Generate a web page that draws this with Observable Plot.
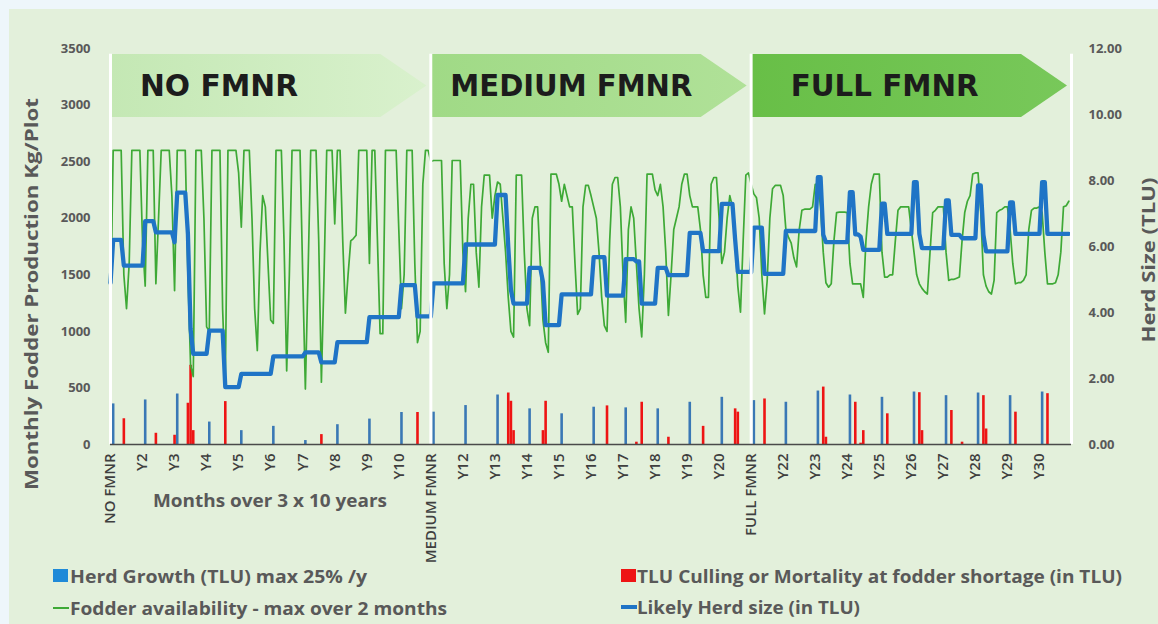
<!DOCTYPE html>
<html><head><meta charset="utf-8">
<script src="https://cdn.jsdelivr.net/npm/d3@7"></script>
<script src="https://cdn.jsdelivr.net/npm/@observablehq/plot@0.6"></script>
<style>
html,body{margin:0;padding:0;background:#eef6fb;}
#chart{position:relative;width:1158px;height:624px;overflow:hidden;}
</style></head><body><div id="chart"></div>
<script>
// ---------- DATA ----------
const sections = [
  {name: "NO FMNR", start: 0, end: 120},
  {name: "MEDIUM FMNR", start: 120, end: 240},
  {name: "FULL FMNR", start: 240, end: 360}
];
const tickLabels = ["NO FMNR","Y2","Y3","Y4","Y5","Y6","Y7","Y8","Y9","Y10",
  "MEDIUM FMNR","Y12","Y13","Y14","Y15","Y16","Y17","Y18","Y19","Y20",
  "FULL FMNR","Y22","Y23","Y24","Y25","Y26","Y27","Y28","Y29","Y30"];
const leftTicks = [0,500,1000,1500,2000,2500,3000,3500];
const rightTicks = [0,2,4,6,8,10,12];

// Fodder availability (kg/plot), monthly
const fodderNo = [
1110,2600,2600,2600,2600,1500,1200,1600,2600,2600,
2600,2600,1800,1400,2600,2600,2600,1420,2000,2600,
2600,2600,2600,2200,1360,2600,2600,2600,2600,1500,
700,600,2600,2600,2600,2000,1040,1000,2600,2600,
2600,2600,1200,530,2600,2600,2600,2600,2400,1920,
2600,2600,2600,2000,1200,830,1700,2200,2100,1600,
1100,1070,2600,2600,2600,1800,650,1500,2600,2600,
2600,2600,1500,490,1500,2600,2600,2600,1800,550,
1500,2600,2600,2600,1950,2600,2600,1800,1160,1500,
1800,1820,1850,2600,2600,2600,2600,1600,2600,2600,
1800,980,980,2600,2600,2600,2600,2600,1900,1200,
1500,2600,2600,2600,1600,900,1000,2300,2600,2600];
const fodderMedium = [
2500,2510,2510,2510,2510,1600,1200,1500,2510,2510,
2510,2510,1700,1350,2000,2300,2300,1700,1390,2100,
2380,2380,2380,2000,2200,2320,2300,2000,1700,1300,
1000,950,2380,2380,2380,1700,1200,1050,2000,2100,
2100,1600,1100,900,815,2390,2390,2390,2300,2150,
2300,2200,2100,2100,1600,1150,1200,2100,2290,2290,
2200,2100,2000,1700,1300,1050,1000,1800,2300,2360,
2360,2100,1500,1080,1900,2100,2000,1600,1200,950,
1500,2390,2390,2390,2250,2200,2300,2100,1700,1140,
1500,1900,2000,2100,2300,2390,2390,2200,2100,2100,
2100,1900,1500,1300,1300,2300,2360,2360,2000,1600,
1700,2000,2200,2100,1800,1400,1170,1800,2380,2400];
const fodderFull = [
2300,2215,2180,2000,1500,1155,1450,2000,2260,2290,
2290,2290,2200,1900,1830,1780,1650,1570,1900,2070,
2080,2080,2080,2100,2300,2300,2100,1700,1430,1390,
1420,1800,2050,2053,2053,2053,2050,1600,1420,1420,
1420,1420,1300,1800,2100,2300,2390,2390,2390,1700,
1480,1480,1500,1500,1800,2070,2100,2100,2100,2100,
1900,1700,1500,1420,1380,1350,1330,1700,2050,2070,
2100,2100,2100,1700,1450,1460,1460,1470,1480,1800,
2050,2150,2200,2390,2400,2400,2050,1500,1400,1350,
1330,1450,2050,2070,2080,2100,2100,1900,1600,1420,
1430,1430,1450,1500,1900,2070,2090,2090,2100,2050,
1700,1420,1420,1420,1430,1500,1700,2100,2110,2150];

// Likely herd size (TLU), monthly
const herdNo = [
4.9,6.2,6.2,6.2,6.2,5.42,5.42,5.42,5.42,5.42,
5.42,5.42,5.42,6.77,6.77,6.77,6.77,6.43,6.43,6.43,
6.43,6.43,6.43,6.43,6.13,7.63,7.63,7.63,7.63,6.38,
3.5,2.75,2.75,2.75,2.75,2.75,2.75,3.45,3.45,3.45,
3.45,3.45,3.45,1.74,1.74,1.74,1.74,1.74,1.74,2.14,
2.14,2.14,2.14,2.14,2.14,2.14,2.14,2.14,2.14,2.14,
2.14,2.67,2.67,2.67,2.67,2.67,2.67,2.67,2.67,2.67,
2.67,2.67,2.67,2.79,2.79,2.79,2.79,2.79,2.79,2.49,
2.49,2.49,2.49,2.49,2.49,3.1,3.1,3.1,3.1,3.1,
3.1,3.1,3.1,3.1,3.1,3.1,3.1,3.86,3.86,3.86,
3.86,3.86,3.86,3.86,3.86,3.86,3.86,3.86,3.86,4.83,
4.83,4.83,4.83,4.83,4.83,3.88,3.88,3.88,3.88,3.88];
const herdMedium = [
3.88,4.88,4.88,4.88,4.88,4.88,4.88,4.88,4.88,4.88,
4.88,4.88,4.88,6.06,6.06,6.06,6.06,6.06,6.06,6.06,
6.06,6.06,6.06,6.06,6.06,7.56,7.56,7.56,7.56,6.0,
4.69,4.27,4.27,4.27,4.27,4.27,4.27,5.35,5.35,5.35,
5.35,5.35,4.93,3.62,3.62,3.62,3.62,3.62,3.62,4.55,
4.55,4.55,4.55,4.55,4.55,4.55,4.55,4.55,4.55,4.55,
4.55,5.68,5.68,5.68,5.68,5.68,4.51,4.51,4.51,4.51,
4.51,4.51,4.51,5.62,5.62,5.62,5.62,5.55,5.55,4.27,
4.27,4.27,4.27,4.27,4.27,5.35,5.35,5.35,5.35,5.13,
5.13,5.13,5.13,5.13,5.13,5.13,5.13,6.41,6.41,6.41,
6.41,6.41,5.86,5.86,5.86,5.86,5.86,5.86,5.86,7.29,
7.29,7.29,7.29,7.29,6.21,5.23,5.23,5.23,5.23,5.23];
const herdFull = [
5.22,6.57,6.57,6.57,6.57,5.17,5.17,5.17,5.17,5.17,
5.17,5.17,5.17,6.47,6.47,6.47,6.47,6.47,6.47,6.47,
6.47,6.47,6.47,6.47,6.47,8.1,8.1,6.36,6.13,6.13,
6.13,6.13,6.13,6.13,6.13,6.13,6.13,7.65,7.65,6.37,
6.37,6.3,5.9,5.9,5.9,5.9,5.9,5.9,5.9,7.3,
7.3,6.38,6.38,6.38,6.38,6.38,6.38,6.38,6.38,6.38,
6.38,7.95,7.95,6.38,5.95,5.95,5.95,5.95,5.95,5.95,
5.95,5.95,5.95,7.4,7.4,6.35,6.35,6.35,6.35,6.25,
6.25,6.25,6.25,6.25,6.25,7.85,7.85,6.35,5.85,5.85,
5.85,5.85,5.85,5.85,5.85,5.85,5.85,7.34,7.34,6.38,
6.38,6.38,6.38,6.38,6.38,6.38,6.38,6.38,6.38,7.95,
7.95,6.38,6.38,6.38,6.38,6.38,6.38,6.38,6.38,6.38];

// Herd growth bars (TLU) and culling / mortality bars (TLU)
const growthMonths = [1,13,25,37,49,61,73,85,97,109,121,133,145,157,169,181,193,205,217,229,241,253,265,277,289,301,313,325,337,349];
const growthValues = [1.23,1.35,1.53,0.68,0.42,0.55,0.12,0.6,0.77,0.97,0.98,1.18,1.5,1.08,0.93,1.13,1.11,1.08,1.28,1.43,1.33,1.28,1.62,1.5,1.43,1.59,1.48,1.56,1.48,1.59];
const cullMonths = [5,17,24,29,30,31,43,79,115,149,150,151,162,163,186,197,199,209,222,234,235,245,267,268,279,281,282,291,303,304,315,319,327,328,339,351];
const cullValues = [0.78,0.34,0.28,1.25,2.4,0.42,1.3,0.3,0.97,1.56,1.31,0.42,0.42,1.31,1.17,0.07,1.28,0.22,0.55,1.08,0.98,1.38,1.74,0.22,1.28,0.04,0.42,0.93,1.57,0.42,1.03,0.07,1.48,0.47,0.98,1.54];

// ---------- BUILD ----------
const K = 3500 / 12; // kg-axis units per TLU (dual axis)
const fodder = [...fodderNo, ...fodderMedium, ...fodderFull];
const herd = [...herdNo, ...herdMedium, ...herdFull];
const rows = fodder.map((f, i) => ({month: i, fodder: f, herd: herd[i]}));
const growth = growthMonths.map((m, i) => ({month: m, tlu: growthValues[i]}));
const culling = cullMonths.map((m, i) => ({month: m, tlu: cullValues[i]}));
const tickMonths = tickLabels.map((_, i) => i * 12);
const labelOf = new Map(tickMonths.map((m, i) => [m, tickLabels[i]]));
const bounds = [0, ...sections.map(s => s.end)];

const FONT = "'Open Sans', sans-serif";
const GREY = "#595959";

const plot = Plot.plot({
  width: 1158, height: 624,
  marginLeft: 110, marginRight: 87, marginTop: 48, marginBottom: 180,
  x: {domain: [0, 360]},
  y: {domain: [0, 3500]},
  style: {background: "transparent", fontFamily: FONT, color: GREY, overflow: "visible"},
  marks: [
    Plot.ruleX(growth, {x: "month", y1: 0, y2: d => d.tlu * K, stroke: "#3a78b5", strokeWidth: 2.6}),
    Plot.ruleX(culling, {x: "month", y1: 0, y2: d => d.tlu * K, stroke: "#ee1414", strokeWidth: 2.6}),
    Plot.line(rows, {x: "month", y: "fodder", stroke: "#3ea936", strokeWidth: 1.7, strokeLinejoin: "round"}),
    Plot.line(rows, {x: "month", y: d => d.herd * K, stroke: "#1f74c6", strokeWidth: 4.3, strokeLinejoin: "round"}),
    Plot.ruleX(bounds, {x: d => d, y1: 0, y2: 3450, stroke: "#ffffff", strokeWidth: 3}),
    Plot.ruleY([0], {stroke: "#4a4a4a", strokeWidth: 1.4}),
    Plot.axisY({ticks: leftTicks, tickSize: 0, tickPadding: 20, label: null,
      tickFormat: d => String(d), fontSize: 13, fontWeight: "bold", fill: GREY}),
    Plot.axisY({anchor: "right", ticks: rightTicks.map(t => t * K), tickSize: 0, tickPadding: 17, label: null,
      tickFormat: d => (d / K).toFixed(2), fontSize: 13, fontWeight: "bold", fill: GREY}),
    Plot.axisX({ticks: tickMonths, tickFormat: d => labelOf.get(d), tickRotate: -90, tickSize: 0, tickPadding: 9,
      label: null, fontSize: 15, fontWeight: 600, fill: "#3f3f3f"})
  ]
});

const svg = d3.select(plot);
const sx = plot.scale("x");

// panel background
svg.insert("rect", ":first-child").attr("x", 9).attr("y", 9).attr("width", 1149).attr("height", 615).attr("fill", "#e3f0db");

// banners
const defs = svg.append("defs");
const bannerFill = [["#c4e8b4", "#d9f1cd"], ["#a0da86", "#b0e198"], ["#68bf47", "#78c85a"]];
const textOffset = [28, 18, 38];
const textLen = [158, 242, 188];
sections.forEach((s, i) => {
  const g = defs.append("linearGradient").attr("id", "bg" + i).attr("x1", 0).attr("x2", 1).attr("y1", 0).attr("y2", 0);
  g.append("stop").attr("offset", "0%").attr("stop-color", bannerFill[i][0]);
  g.append("stop").attr("offset", "100%").attr("stop-color", bannerFill[i][1]);
  const xa = sx.apply(s.start) + 2, xt = sx.apply(s.end) - 4, xb = xt - 46;
  const top = 54, bot = 117, mid = (top + bot) / 2;
  svg.append("path").attr("d", `M${xa},${top}L${xb},${top}L${xt},${mid}L${xb},${bot}L${xa},${bot}Z`)
    .attr("fill", `url(#bg${i})`);
  svg.append("text").attr("x", xa + textOffset[i]).attr("y", 95.5).attr("text-anchor", "start")
    .attr("font-family", "'DejaVu Sans', sans-serif").attr("font-weight", "bold").attr("font-size", 30)
    .attr("fill", "#1c1c1c").attr("textLength", textLen[i]).attr("lengthAdjust", "spacingAndGlyphs")
    .text(s.name);
});

// axis titles and legend texts
function label(txt, x, y, len, rot) {
  const t = svg.append("text").attr("font-family", FONT).attr("font-weight", "bold").attr("font-size", 17)
    .attr("fill", GREY).attr("textLength", len).attr("lengthAdjust", "spacingAndGlyphs").text(txt);
  if (rot) {
    t.attr("text-anchor", "middle").attr("dominant-baseline", "central")
     .attr("transform", `translate(${x},${y}) rotate(-90)`);
  } else {
    t.attr("x", x).attr("y", y).attr("text-anchor", "start").attr("dominant-baseline", "central");
  }
  return t;
}
label("Monthly Fodder Production Kg/Plot", 31, 294, 392, true);
label("Herd Size (TLU)", 1148, 260, 165, true);
label("Months over 3 x 10 years", 153, 500, 234, false);

// legend
svg.append("rect").attr("x", 53).attr("y", 569).attr("width", 15).attr("height", 13).attr("fill", "#1f8ad8");
label("Herd Growth (TLU) max 25% /y", 70, 576, 297, false);
svg.append("line").attr("x1", 53).attr("x2", 69).attr("y1", 608).attr("y2", 608).attr("stroke", "#3ea936").attr("stroke-width", 2);
label("Fodder availability - max over 2 months", 70, 608, 377, false);
svg.append("rect").attr("x", 621).attr("y", 569).attr("width", 15).attr("height", 13).attr("fill", "#ee1414");
label("TLU Culling or Mortality at fodder shortage (in TLU)", 637, 576, 485, false);
svg.append("line").attr("x1", 621).attr("x2", 637).attr("y1", 607).attr("y2", 607).attr("stroke", "#1f74c6").attr("stroke-width", 4);
label("Likely Herd size (in TLU)", 637, 607, 223, false);

document.getElementById("chart").appendChild(plot);
</script></body></html>
